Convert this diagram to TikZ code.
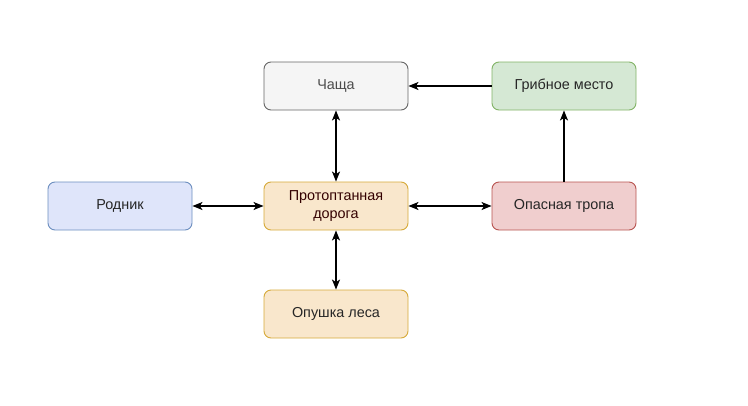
\documentclass[tikz,border=0pt]{standalone}
\usepackage{fontspec}
\setmainfont{Liberation Sans}
\usepackage{tikz}
\usetikzlibrary{arrows.meta,positioning,calc}

\definecolor{grayfill}{HTML}{F5F5F5}
\definecolor{graydraw}{HTML}{666666}
\definecolor{greenfill}{HTML}{D5E8D4}
\definecolor{greendraw}{HTML}{82B366}
\definecolor{redfill}{HTML}{F0CECE}
\definecolor{reddraw}{HTML}{B85450}
\definecolor{bluefill}{HTML}{DFE5FA}
\definecolor{bluedraw}{HTML}{6C8EBF}
\definecolor{sandfill}{HTML}{F9E7CC}
\definecolor{sanddraw}{HTML}{D6AA3A}

\begin{document}
\begin{tikzpicture}[x=1pt,y=-1pt,
		box/.style={rectangle, rounded corners=7pt, draw, line width=0.9pt, minimum width=144pt, minimum height=48pt, align=center, font=\fontsize{14.4}{17.3}\selectfont, text=black!85},
		link/.style={line width=1.2pt, >={Stealth[length=10pt,width=8pt,inset=2.5pt]}}]
		\useasboundingbox (0,0) rectangle (748,405);
		\node[box, fill=grayfill, draw=graydraw, text=black!70] (Ch) at (336, 86) {Чаща};
		\node[box, fill=greenfill, draw=greendraw] (G) at (564, 86) {Грибное место};
		\node[box, fill=bluefill, draw=bluedraw] (R) at (120, 206) {Родник};
		\node[box, fill=sandfill, draw=sanddraw, text={rgb,255:red,51;green,0;blue,0}] (D) at (336, 206) {Протоптанная\\дорога};
		\node[box, fill=redfill, draw=reddraw] (T) at (564, 206) {Опасная тропа};
		\node[box, fill=sandfill, draw=sanddraw] (E) at (336, 314) {Опушка леса};
		\draw[link, ->] (G) -- (Ch);
		\draw[link, ->] (T) -- (G);
		\draw[link, <->] (Ch) -- (D);
		\draw[link, <->] (R) -- (D);
		\draw[link, <->] (D) -- (T);
		\draw[link, <->] (D) -- (E);
	\end{tikzpicture}
\end{document}
